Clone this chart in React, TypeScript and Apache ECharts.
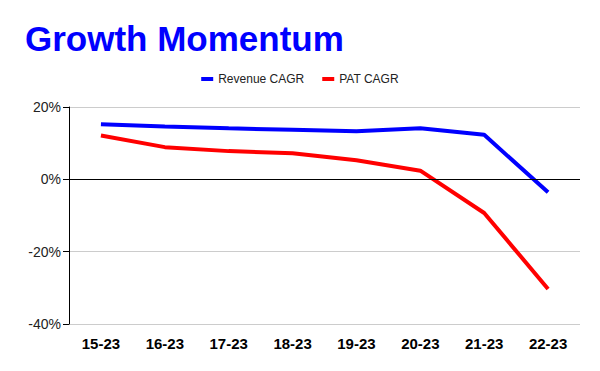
import React, { useEffect, useRef } from "react";
import * as echarts from "echarts";

const categories = ["15-23", "16-23", "17-23", "18-23", "19-23", "20-23", "21-23", "22-23"];
const revenueCagr = [15.2, 14.6, 14.1, 13.7, 13.3, 14.1, 12.3, -3.6];
const patCagr = [12.1, 8.9, 7.8, 7.2, 5.3, 2.4, -9.3, -30.3];

export default function App() {
  const ref = useRef<HTMLDivElement>(null);
  useEffect(() => {
    if (!ref.current) return;
    const chart = echarts.init(ref.current, null, { renderer: "svg" });
    chart.setOption({
      animation: false,
      backgroundColor: "#ffffff",
      title: {
        text: "Growth Momentum",
        left: 20,
        top: 16,
        textStyle: { color: "#0000ff", fontSize: 35, fontWeight: "bold", fontFamily: "Liberation Sans, Arial, sans-serif" },
      },
      legend: {
        top: 68,
        left: "center",
        itemWidth: 12,
        itemHeight: 4,
        itemGap: 18,
        icon: "rect",
        textStyle: { fontSize: 12, color: "#222", fontFamily: "Liberation Sans, Arial, sans-serif" },
        data: ["Revenue CAGR", "PAT CAGR"],
      },
      grid: { left: 69, right: 20, top: 107, bottom: 47 },
      xAxis: {
        type: "category",
        data: categories,
        boundaryGap: true,
        axisLine: { show: false },
        axisTick: { show: false },
        axisLabel: { fontSize: 15, fontWeight: "bold", color: "#000", margin: 12, fontFamily: "Liberation Sans, Arial, sans-serif" },
      },
      yAxis: {
        type: "value",
        min: -40,
        max: 20,
        interval: 20,
        axisLine: { show: true, lineStyle: { color: "#000" } },
        axisTick: { show: true, length: 6, lineStyle: { color: "#000" } },
        axisLabel: {
          formatter: (v: number) => `${v}%`,
          fontSize: 14,
          color: "#222",
          margin: 8,
          fontFamily: "Liberation Sans, Arial, sans-serif",
        },
        splitLine: {
          show: true,
          lineStyle: { color: "#cccccc", width: 1 },
        },
      },
      series: [
        {
          name: "Revenue CAGR",
          type: "line",
          data: revenueCagr,
          symbol: "none",
          color: "#0000ff",
          lineStyle: { color: "#0000ff", width: 4 },
          markLine: {
            silent: true,
            symbol: "none",
            label: { show: false },
            lineStyle: { color: "#000", width: 1, type: "solid" },
            data: [{ yAxis: 0 }],
          },
        },
        {
          name: "PAT CAGR",
          type: "line",
          data: patCagr,
          symbol: "none",
          color: "#ff0000",
          lineStyle: { color: "#ff0000", width: 4 },
        },
      ],
    });
    return () => chart.dispose();
  }, []);
  return <div ref={ref} style={{ width: 600, height: 371, position: "absolute", left: 0, top: 0 }} />;
}
